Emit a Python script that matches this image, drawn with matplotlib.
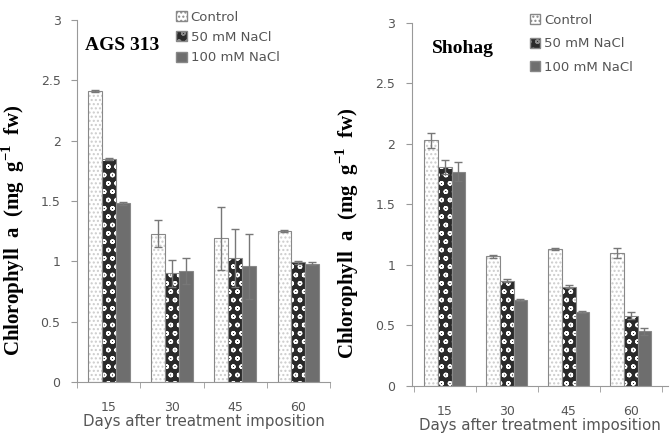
import numpy as np
import matplotlib.pyplot as plt

days = ['15', '30', '45', '60']
labels = ['Control', '50 mM NaCl', '100 mM NaCl']

# AGS 313
ags_control = [2.41, 1.23, 1.19, 1.25]
ags_50 = [1.85, 0.90, 1.03, 0.99]
ags_100 = [1.48, 0.92, 0.96, 0.98]
ags_control_err = [0.01, 0.11, 0.26, 0.01]
ags_50_err = [0.01, 0.11, 0.24, 0.01]
ags_100_err = [0.01, 0.11, 0.27, 0.01]

# Shohag
sho_control = [2.03, 1.07, 1.13, 1.10]
sho_50 = [1.81, 0.87, 0.82, 0.58]
sho_100 = [1.77, 0.71, 0.61, 0.45]
sho_control_err = [0.06, 0.01, 0.01, 0.04]
sho_50_err = [0.06, 0.01, 0.01, 0.03]
sho_100_err = [0.08, 0.01, 0.01, 0.03]

grey = '#777777'
fig = plt.figure(figsize=(6.72, 4.34), dpi=100)


def draw(ax, vals, errs, name, xlim, leg_pos, name_pos, spacing):
    x = np.arange(len(days))
    w = 0.22
    styles = [
        dict(face='white', hatch='....', hcol='#cccccc'),
        dict(face='#2a2a2a', hatch='oo', hcol='white'),
        dict(face='#6e6e6e', hatch=None, hcol='#6e6e6e'),
    ]
    handles = []
    for i, (v, e, st) in enumerate(zip(vals, errs, styles)):
        pos = x + (i - 1) * w
        ax.bar(pos, v, w, color=st['face'], hatch=st['hatch'],
               edgecolor=st['hcol'], linewidth=0)
        ax.bar(pos, v, w, fill=False, edgecolor='#888888', linewidth=0.8)
        ax.errorbar(pos, v, yerr=e, fmt='none', ecolor=grey, elinewidth=1,
                    capsize=3, capthick=1)
        handles.append(ax.bar([0], [0], 0, color=st['face'], hatch=st['hatch'],
                              edgecolor='#888888', label=labels[i]))
    ax.set_xlim(*xlim)
    ax.set_ylim(0, 3)
    ax.set_yticks([0, 0.5, 1, 1.5, 2, 2.5, 3])
    ax.set_yticklabels(['0', '0.5', '1', '1.5', '2', '2.5', '3'])
    ax.set_xticks(x)
    ax.set_xticklabels(days)
    ax.set_xticks([-0.5, 0.5, 1.5, 2.5, 3.5], minor=True)
    ax.tick_params(axis='x', which='major', length=0, pad=14)
    ax.tick_params(axis='x', which='minor', length=4, color='#999999')
    ax.tick_params(axis='y', length=4, color='#999999', pad=8)
    ax.tick_params(labelsize=9, labelcolor='#555555')
    for s in ['top', 'right']:
        ax.spines[s].set_visible(False)
    for s in ['left', 'bottom']:
        ax.spines[s].set_color('#999999')
    ax.set_xlabel('Days after treatment imposition', fontsize=10.8,
                  color='#555555', labelpad=0)
    ax.set_ylabel('Chlorophyll  a  (mg  g$^{\\mathregular{-1}}$  fw)', fontsize=15,
                  fontweight='bold', family='Liberation Serif')
    ax.yaxis.set_label_coords(-0.2, 0.42)
    ax.text(name_pos[0], name_pos[1], name, transform=ax.transAxes,
            fontsize=14, fontweight='bold', family='Liberation Serif',
            va='center')
    ax.legend(handles=handles, loc='upper left', bbox_to_anchor=leg_pos,
              frameon=False, fontsize=9.5, labelcolor='#555555',
              handlelength=0.8, handleheight=0.8, handletextpad=0.3,
              labelspacing=spacing, borderaxespad=0)


ax1 = fig.add_axes([0.115, 0.12, 0.376, 0.834])
draw(ax1, [ags_control, ags_50, ags_100],
     [ags_control_err, ags_50_err, ags_100_err],
     'AGS 313', (-0.45, 3.38), (0.37, 1.04), (0.03, 0.93), 0.55)

ax2 = fig.add_axes([0.613, 0.111, 0.381, 0.836])
draw(ax2, [sho_control, sho_50, sho_100],
     [sho_control_err, sho_50_err, sho_100_err],
     'Shohag', (-0.53, 3.6), (0.44, 1.04), (0.08, 0.93), 0.8)

plt.savefig('out.png')
